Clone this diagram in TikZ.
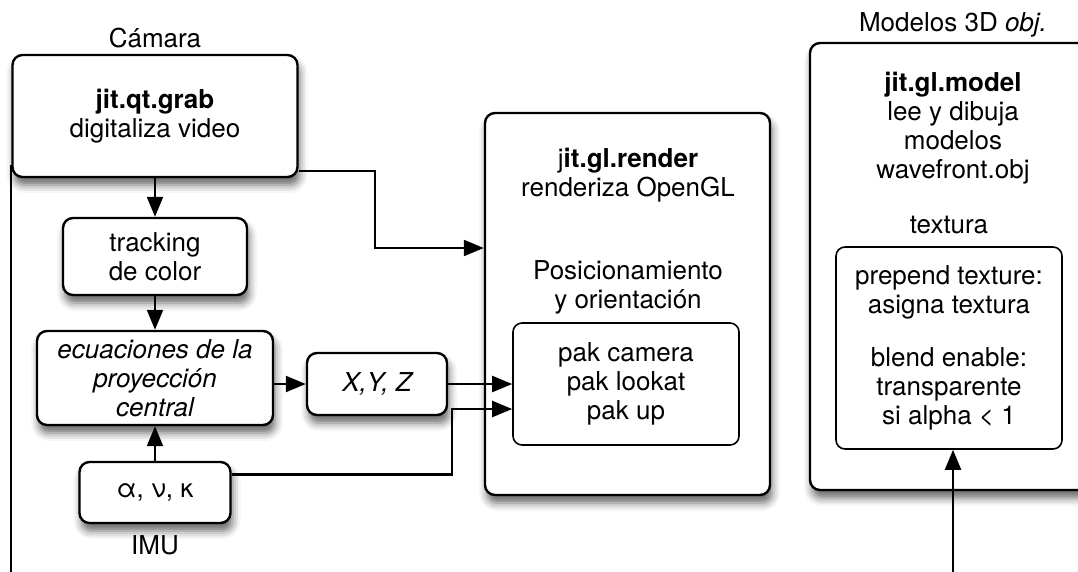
\documentclass[tikz,border=0pt]{standalone}
\usepackage{fontspec}
\setmainfont{TeX Gyre Heros}
\usetikzlibrary{arrows.meta,shadows.blur}
\newcommand{\diagfont}{\fontsize{26}{29}\selectfont}

\begin{document}
\begin{tikzpicture}[x=1pt, y=-1pt, font=\diagfont,
		box/.style={draw, line width=2.4pt, rounded corners=10pt, fill=white, align=center, inner sep=0pt,
			blur shadow={shadow xshift=2pt, shadow yshift=-8pt, shadow blur radius=8pt, shadow opacity=60}},
		inbox/.style={draw, line width=1.6pt, rounded corners=9pt, fill=white, align=center, inner sep=0pt},
		txt/.style={align=center, inner sep=0pt},
		wire/.style={line width=2.2pt},
		conn/.style={wire, -{Triangle[length=20pt, width=16pt]}}]
				\useasboundingbox (0,0) rectangle (1078,571);

				\node[txt] (camara) at (155,38) {Cámara};
				\node[box, minimum width=285pt, minimum height=122pt] (grab) at (155,116) {\textbf{jit.qt.grab}\\digitaliza video};
				\node[box, minimum width=184pt, minimum height=77pt] (track) at (155,256.5) {tracking\\de color};
				\node[box, minimum width=236pt, minimum height=94pt, font=\diagfont\itshape] (ecua) at (155,378) {ecuaciones de la\\proyección\\central};
				\node[box, minimum width=140pt, minimum height=62pt, font=\diagfont\itshape] (xyz) at (377,384) {X,Y, Z};
				\node[box, minimum width=151pt, minimum height=61pt] (imu) at (155,492.5) {α, ν, κ};
				\node[txt] (imulabel) at (155,545) {IMU};

				\node[box, minimum width=285pt, minimum height=382pt] (render) at (627.5,304) {};
				\node[txt] (rendertitle) at (628,175) {j\textbf{it.gl.render}\\renderiza OpenGL};
				\node[txt] (pos) at (628,287) {Posicionamiento\\y orientación};
				\node[inbox, minimum width=226pt, minimum height=122pt] (pak) at (626,384) {pak camera\\pak lookat\\pak up};

				\node[txt] (modelos) at (953,25) {Modelos 3D \textit{obj.}};
				\node[box, minimum width=286pt, minimum height=447pt] (model) at (953,266.5) {};
				\node[txt] (modeltitle) at (953,128) {\textbf{jit.gl.model}\\lee y dibuja\\modelos\\wavefront.obj};
				\node[txt] (textura) at (949,225) {textura};
				\node[inbox, minimum width=226pt, minimum height=202pt] (tex) at (949,348) {prepend texture:\\asigna textura\\[24pt]blend enable:\\transparente\\si alpha < 1};

				\coordinate (camdown) at (12,580);
				\coordinate (texin) at (953,580);

				\draw[conn] (grab.south) -- (track.north);
				\draw[conn] (track.south) -- (ecua.north);
				\draw[conn] (imu.north) -- (ecua.south);
				\draw[conn] (xyz.west -| ecua.east) -- (xyz.west);
				\draw[conn] (xyz.east) -- (pak.west);
				\draw[conn] ([yshift=18pt]imu.east) -| ([xshift=-60pt,yshift=-25pt]pak.west) -- ([yshift=-25pt]pak.west);
				\draw[conn] ([yshift=-55pt]grab.east) -- ++(76,0) |- ([yshift=56pt]render.west);
				\draw[wire] ([yshift=-49pt]grab.west) -- (grab.west |- camdown);
				\draw[conn] (texin) -- (texin |- tex.south);
			\end{tikzpicture}
\end{document}
